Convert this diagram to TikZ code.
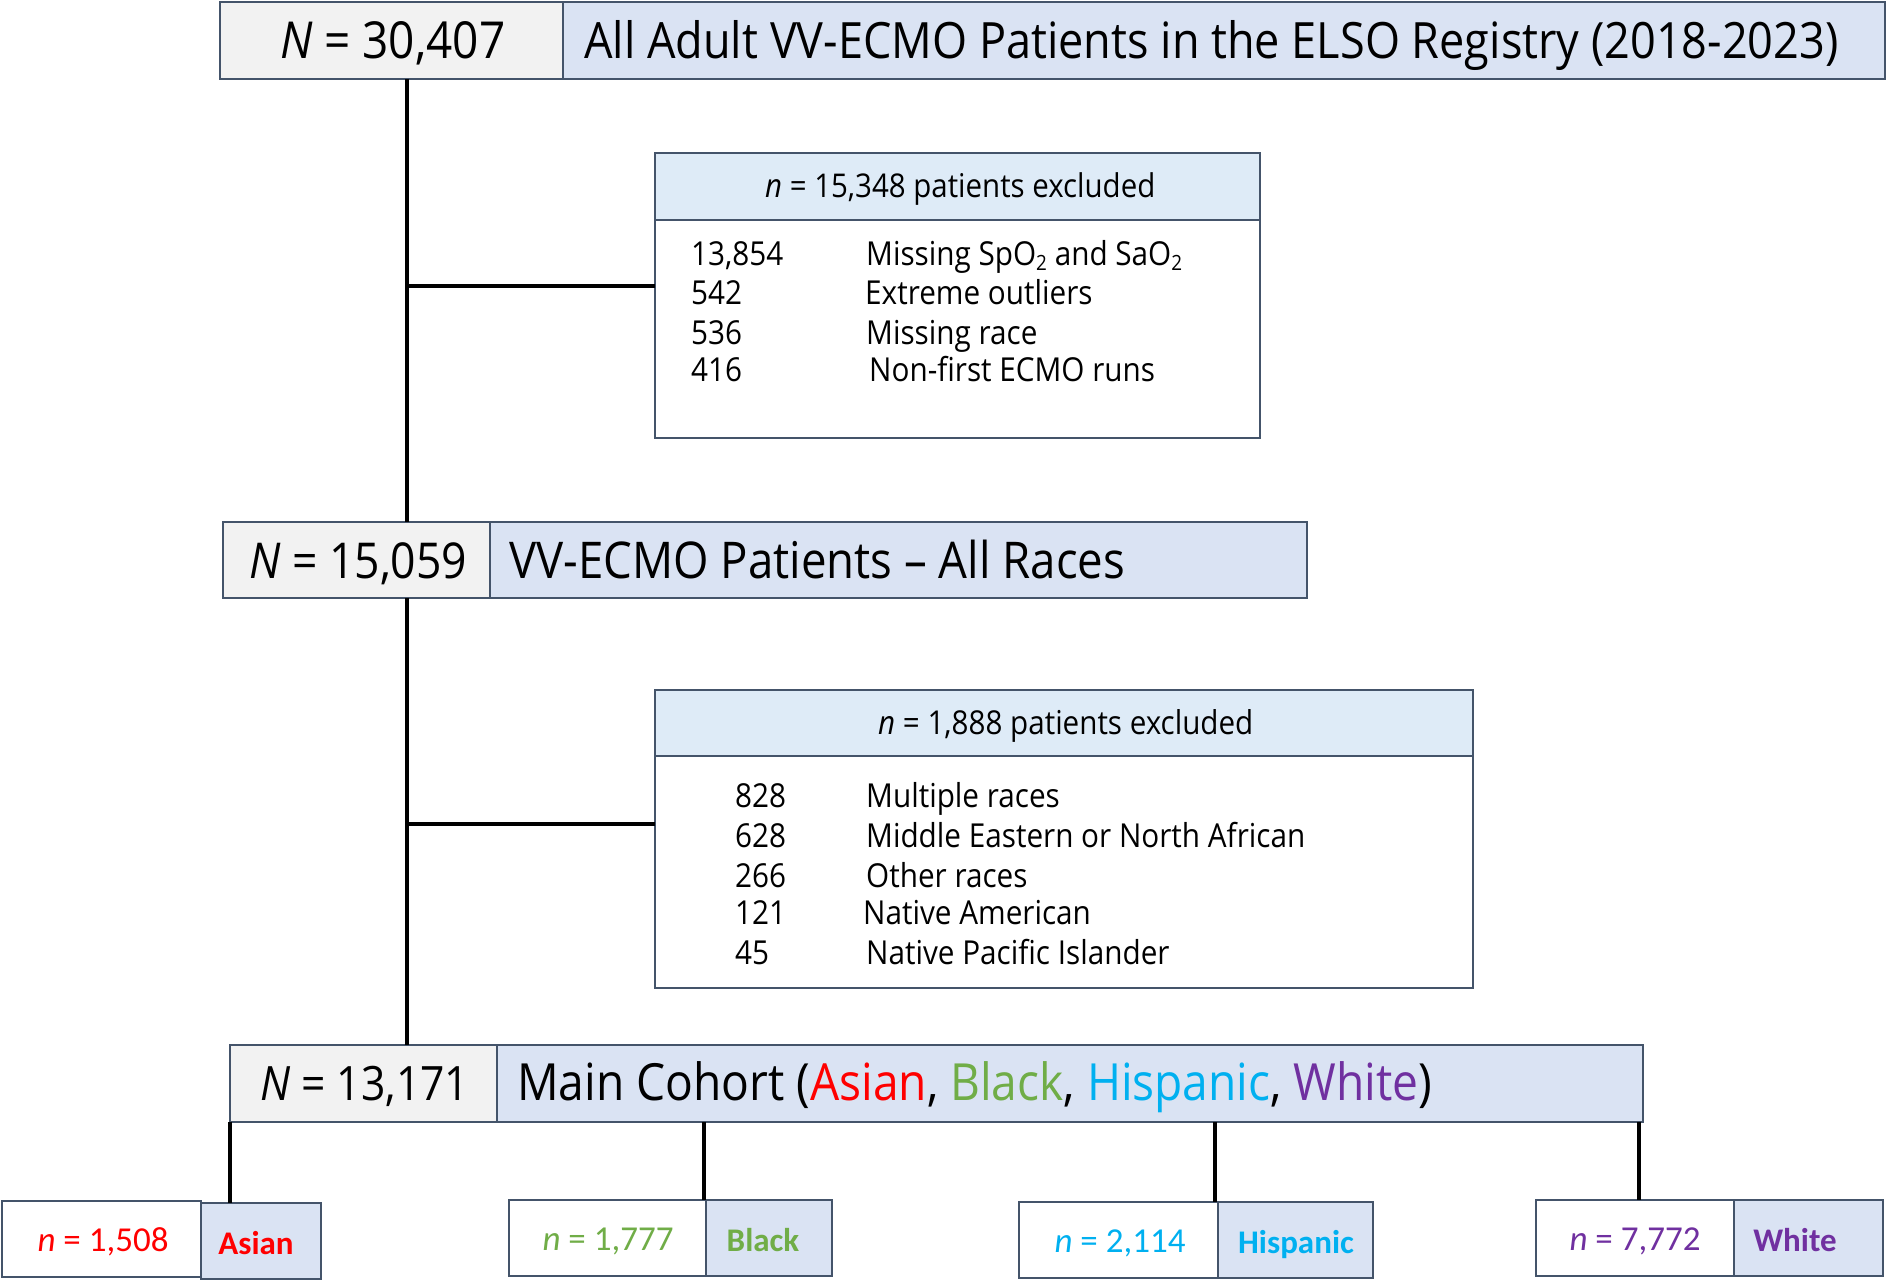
\documentclass[tikz,border=0pt]{standalone}
\usepackage{fontspec}
\setmainfont{Open Sans}[FakeStretch=0.9]
\newfontfamily\calfont{Carlito}
\usepackage{graphicx}
\definecolor{boxln}{HTML}{44546A}
\definecolor{lfill}{HTML}{F2F2F2}
\definecolor{rfill}{HTML}{DAE3F3}
\definecolor{hfill}{HTML}{DEEBF7}
\definecolor{asianc}{HTML}{FF0000}
\definecolor{blackc}{HTML}{70AD47}
\definecolor{hispc}{HTML}{00B0F0}
\definecolor{whitec}{HTML}{7030A0}
\newcommand\fitw[2]{\resizebox{#1pt}{!}{#2}}
\newcommand\subtwo{\raisebox{-0.18em}{\fontsize{21}{21}\selectfont 2}}
\begin{document}
\begin{tikzpicture}[x=1pt,y=-1pt,
  box/.style={draw=boxln, line width=2.6pt, rectangle, inner sep=0pt, outer sep=0pt, anchor=north west},
  conn/.style={draw=black, line width=4pt},
  txt/.style={inner sep=0pt, anchor=base west},
  rowtxt/.style={inner sep=0pt, anchor=base west, font=\fontsize{33}{33}\selectfont},
  ntxt/.style={inner sep=0pt, anchor=base, font=\calfont\fontsize{35}{35}\selectfont},
  btxt/.style={inner sep=0pt, anchor=base, font=\calfont\bfseries\fontsize{33}{33}\selectfont}]
\useasboundingbox (0,0) rectangle (1887,1283);

% ---------- top box ----------
\node[box, fill=lfill, minimum width=343pt, minimum height=77pt] (topL) at (220,2) {};
\node[box, fill=rfill, minimum width=1322pt, minimum height=77pt] (topR) at (563,2) {};
\node[txt] (t1) at (280,58) {\fitw{225}{\textit{N} = 30,407}};
\node[txt] (t2) at (584,58) {\fitw{1254}{All Adult VV-ECMO Patients in the ELSO Registry (2018-2023)}};

% ---------- exclusion box 1 ----------
\node[box, fill=white, minimum width=605pt, minimum height=285pt] (ex1) at (655,153) {};
\node[box, fill=hfill, minimum width=605pt, minimum height=67pt] (ex1h) at (655,153) {};
\node[txt] (h1) at (765,197) {\fitw{390}{\textit{n} = 15,348 patients excluded}};
\node[rowtxt] (r11a) at (691,265) {13,854};
\node[rowtxt] (r11b) at (866,265) {Missing SpO\subtwo{} and SaO\subtwo};
\node[rowtxt] (r12a) at (691,304) {542};
\node[rowtxt] (r12b) at (865,304) {Extreme outliers};
\node[rowtxt] (r13a) at (691,344) {536};
\node[rowtxt] (r13b) at (866,344) {Missing race};
\node[rowtxt] (r14a) at (691,381) {416};
\node[rowtxt] (r14b) at (869,381) {Non-first ECMO runs};

% ---------- second box ----------
\node[box, fill=lfill, minimum width=267pt, minimum height=76pt] (secL) at (223,522) {};
\node[box, fill=rfill, minimum width=817pt, minimum height=76pt] (secR) at (490,522) {};
\node[txt] (t3) at (249,578) {\fitw{218}{\textit{N} = 15,059}};
\node[txt] (t4) at (509,578) {\fitw{616}{VV-ECMO Patients – All Races}};

% ---------- exclusion box 2 ----------
\node[box, fill=white, minimum width=818pt, minimum height=298pt] (ex2) at (655,690) {};
\node[box, fill=hfill, minimum width=818pt, minimum height=66pt] (ex2h) at (655,690) {};
\node[txt] (h2) at (878,734) {\fitw{375}{\textit{n} = 1,888 patients excluded}};
\node[rowtxt] (r21a) at (735,807) {828};
\node[rowtxt] (r21b) at (866,807) {Multiple races};
\node[rowtxt] (r22a) at (735,847) {628};
\node[rowtxt] (r22b) at (866,847) {Middle Eastern or North African};
\node[rowtxt] (r23a) at (735,887) {266};
\node[rowtxt] (r23b) at (866,887) {Other races};
\node[rowtxt] (r24a) at (735,924) {121};
\node[rowtxt] (r24b) at (863,924) {Native American};
\node[rowtxt] (r25a) at (735,964) {45};
\node[rowtxt] (r25b) at (866,964) {Native Pacific Islander};

% ---------- main cohort box ----------
\node[box, fill=lfill, minimum width=267pt, minimum height=77pt] (mainL) at (230,1045) {};
\node[box, fill=rfill, minimum width=1146pt, minimum height=77pt] (mainR) at (497,1045) {};
\node[txt] (t5) at (260,1100) {\fitw{209}{\textit{N} = 13,171}};
\node[txt] (t6) at (517,1100) {\fitw{915}{Main Cohort (\textcolor{asianc}{Asian}, \textcolor{blackc}{Black}, \textcolor{hispc}{Hispanic}, \textcolor{whitec}{White})}};

% ---------- bottom boxes ----------
\node[box, fill=white, minimum width=199pt, minimum height=76pt] (aL) at (2,1201) {};
\node[box, fill=rfill, minimum width=120pt, minimum height=76pt] (aR) at (201,1203) {};
\node[box, fill=white, minimum width=197pt, minimum height=76pt] (bL) at (509,1200) {};
\node[box, fill=rfill, minimum width=126pt, minimum height=76pt] (bR) at (706,1200) {};
\node[box, fill=white, minimum width=199pt, minimum height=76pt] (hL) at (1019,1202) {};
\node[box, fill=rfill, minimum width=155pt, minimum height=76pt] (hR) at (1218,1202) {};
\node[box, fill=white, minimum width=198pt, minimum height=76pt] (wL) at (1536,1200) {};
\node[box, fill=rfill, minimum width=149pt, minimum height=76pt] (wR) at (1734,1200) {};

\node[ntxt, text=asianc] (na) at (103,1251) {\textit{n} = 1,508};
\node[btxt, text=asianc] (la) at (256,1254) {Asian};
\node[ntxt, text=blackc] (nb) at (608,1250) {\textit{n} = 1,777};
\node[btxt, text=blackc] (lb) at (763,1251) {Black};
\node[ntxt, text=hispc] (nh) at (1120,1252) {\textit{n} = 2,114};
\node[btxt, text=hispc] (lh) at (1296,1253) {Hispanic};
\node[ntxt, text=whitec] (nw) at (1635,1250) {\textit{n} = 7,772};
\node[btxt, text=whitec] (lw) at (1795,1251) {White};

% ---------- connectors ----------
\coordinate (xa) at (407,0);
\coordinate (j1) at (407,286);
\coordinate (j2) at (407,824);
\draw[conn] (xa |- topL.south) -- (xa |- secL.north);
\draw[conn] (j1) -- (j1 -| ex1.west);
\draw[conn] (xa |- secL.south) -- (xa |- mainL.north);
\draw[conn] (j2) -- (j2 -| ex2.west);

\coordinate (d1) at (230,0);
\coordinate (d2) at (704,0);
\coordinate (d3) at (1215,0);
\coordinate (d4) at (1639,0);
\draw[conn] (d1 |- mainL.south) -- (d1 |- aR.north);
\draw[conn] (d2 |- mainR.south) -- (d2 |- bL.north);
\draw[conn] (d3 |- mainR.south) -- (d3 |- hL.north);
\draw[conn] (d4 |- mainR.south) -- (d4 |- wL.north);
\end{tikzpicture}
\end{document}
